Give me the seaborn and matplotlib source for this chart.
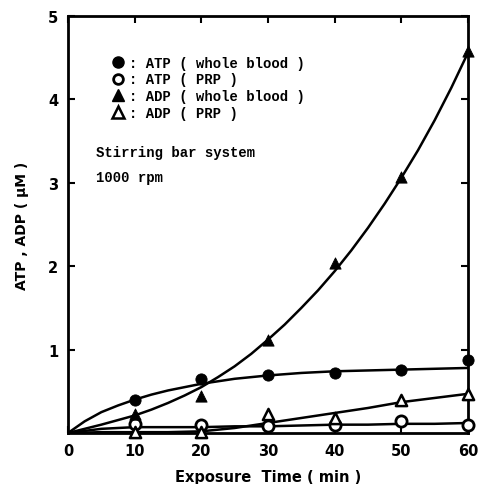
import numpy as np
import matplotlib
matplotlib.use("Agg")
import matplotlib.pyplot as plt
import seaborn as sns
from matplotlib.lines import Line2D

sns.set_style("ticks")
plt.rcParams["font.family"] = ["DejaVu Sans"]
plt.rcParams.update({"text.color": "black", "axes.labelcolor": "black",
                     "xtick.color": "black", "ytick.color": "black",
                     "axes.edgecolor": "black"})

# measured points
time = [10, 20, 30, 40, 50, 60]
atp_whole = [0.40, 0.65, 0.70, 0.72, 0.75, 0.88]
atp_prp = [0.11, 0.10, 0.08, 0.09, 0.14, 0.10]
adp_whole = [0.23, 0.44, 1.11, 2.04, 3.07, 4.58]
adp_prp = [0.01, 0.01, 0.23, 0.18, 0.39, 0.47]

# hand drawn fit curves
fine_t = [0, 2.5, 5, 7.5, 10, 12.5, 15, 17.5, 20, 22.5, 25, 27.5, 30,
          32.5, 35, 37.5, 40, 42.5, 45, 47.5, 50, 52.5, 55, 57.5, 60]
atp_whole_fit = [0.0, 0.14, 0.25, 0.33, 0.40, 0.46, 0.51, 0.55, 0.59, 0.62,
                 0.65, 0.67, 0.69, 0.705, 0.72, 0.73, 0.74, 0.745, 0.75,
                 0.755, 0.76, 0.765, 0.77, 0.775, 0.78]
adp_whole_fit = [0.0, 0.05, 0.10, 0.155, 0.21, 0.28, 0.36, 0.45, 0.55, 0.67,
                 0.80, 0.95, 1.12, 1.30, 1.50, 1.71, 1.94, 2.19, 2.46, 2.75,
                 3.06, 3.39, 3.75, 4.14, 4.56]
coarse_t = [0, 5, 10, 15, 20, 25, 30, 35, 40, 45, 50, 55, 60]
atp_prp_fit = [0.0, 0.05, 0.07, 0.07, 0.07, 0.08, 0.08, 0.09, 0.10, 0.10, 0.11, 0.11, 0.12]
adp_prp_fit = [0.0, 0.01, 0.01, 0.01, 0.02, 0.06, 0.12, 0.18, 0.24, 0.30, 0.37, 0.42, 0.47]

legend_labels = [": ATP ( whole blood )", ": ATP ( PRP )",
                 ": ADP ( whole blood )", ": ADP ( PRP )"]

fig = plt.figure(figsize=(4.8, 4.85), dpi=100)
ax = fig.add_axes([68 / 480, 51 / 485, 400 / 480, 417 / 485])

sns.lineplot(x=fine_t, y=atp_whole_fit, color="black", linewidth=1.8, ax=ax)
sns.lineplot(x=fine_t, y=adp_whole_fit, color="black", linewidth=1.8, ax=ax)
sns.lineplot(x=coarse_t, y=atp_prp_fit, color="black", linewidth=1.8, ax=ax)
sns.lineplot(x=coarse_t, y=adp_prp_fit, color="black", linewidth=1.8, ax=ax)

pt = dict(s=65, clip_on=False, zorder=3, ax=ax)
sns.scatterplot(x=time, y=atp_whole, marker="o", color="black", edgecolor="black", **pt)
sns.scatterplot(x=time, y=atp_prp, marker="o", color="white", edgecolor="black", linewidth=2, **pt)
sns.scatterplot(x=time, y=adp_whole, marker="^", color="black", edgecolor="black", **pt)
sns.scatterplot(x=time, y=adp_prp, marker="^", color="white", edgecolor="black", linewidth=1.8, **pt)

ax.set_xlim(0, 60)
ax.set_ylim(0, 5)
ax.set_xticks([0, 10, 20, 30, 40, 50, 60])
ax.set_yticks([1, 2, 3, 4, 5])
ax.tick_params(direction="in", length=5, width=1.5, top=True, right=True,
               labelsize=10.5, pad=7)
for lab in ax.get_xticklabels() + ax.get_yticklabels():
    lab.set_fontweight("bold")
for sp in ax.spines.values():
    sp.set_linewidth(2)
    sp.set_visible(True)

ax.set_xlabel("Exposure  Time ( min )", fontsize=10.5, fontweight="bold", labelpad=8)
ax.set_ylabel("ATP , ADP ( \u03bcM )", fontsize=10, fontweight="bold", labelpad=14)

handles = [
    Line2D([], [], marker="o", color="black", linestyle="none", markersize=8),
    Line2D([], [], marker="o", markerfacecolor="white", markeredgecolor="black",
           markeredgewidth=2, linestyle="none", markersize=7),
    Line2D([], [], marker="^", color="black", linestyle="none", markersize=8),
    Line2D([], [], marker="^", markerfacecolor="white", markeredgecolor="black",
           markeredgewidth=1.8, linestyle="none", markersize=8),
]
ax.legend(handles, legend_labels, loc="upper left", bbox_to_anchor=(0.08, 0.935),
          frameon=False, handlelength=0.8, handletextpad=0.4, labelspacing=0.2,
          prop={"family": "Liberation Mono", "weight": "bold", "size": 10})

ax.text(0.07, 0.665, "Stirring bar system", transform=ax.transAxes,
        family="Liberation Mono", fontweight="bold", fontsize=10)
ax.text(0.07, 0.605, "1000 rpm", transform=ax.transAxes,
        family="Liberation Mono", fontweight="bold", fontsize=10)

fig.savefig("out.png", dpi=100)
